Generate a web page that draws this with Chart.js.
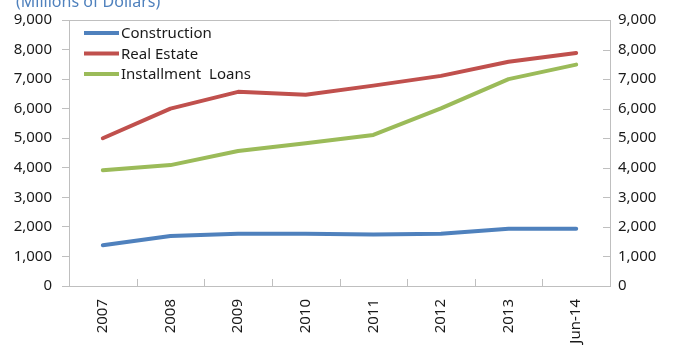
<!DOCTYPE html>
<html>
<head>
<meta charset="utf-8">
<script src="https://cdn.jsdelivr.net/npm/chart.js@4"></script>
<style>
  html, body { margin: 0; padding: 0; background: #fff; overflow: hidden; }
  #wrap { position: relative; width: 673px; height: 356px; }
</style>
</head>
<body>
<div id="wrap"><canvas id="loansChart" width="673" height="356"></canvas></div>
<script>
const categories = ['2007', '2008', '2009', '2010', '2011', '2012', '2013', 'Jun-14']
const construction = [1380, 1690, 1770, 1770, 1740, 1770, 1940, 1940]
const realEstate = [5000, 6000, 6570, 6470, 6780, 7110, 7590, 7880]
const installmentLoans = [3920, 4090, 4570, 4830, 5110, 6010, 7000, 7490]
const yTicks = [0, 1000, 2000, 3000, 4000, 5000, 6000, 7000, 8000, 9000]

const unitsLabel = '(Millions of Dollars)'
const frameColor = '#bfbfbf'

Chart.defaults.font.family = "'Noto Sans', sans-serif"
Chart.defaults.font.size = 15
Chart.defaults.color = '#1a1a1a'

const fmt = v => Number(v).toLocaleString('en-US')

// inner tick marks, top frame edge, units caption and the legend box
const framePlugin = {
  id: 'frame',
  afterDraw(chart) {
    const ctx = chart.ctx
    const {left, right, top, bottom} = chart.chartArea
    const xs = chart.scales.x
    const y2 = chart.scales.y2
    ctx.save()
    ctx.strokeStyle = frameColor
    ctx.lineWidth = 1
    ctx.beginPath()
    ctx.moveTo(left, Math.round(top) + 0.5)
    ctx.lineTo(right, Math.round(top) + 0.5)
    y2.ticks.forEach(t => {
      const y = Math.round(y2.getPixelForValue(t.value)) + 0.5
      ctx.moveTo(right - 7, y)
      ctx.lineTo(right, y)
    })
    for (let i = 1; i < categories.length; i++) {
      const x = Math.round((xs.getPixelForValue(i - 1) + xs.getPixelForValue(i)) / 2) + 0.5
      ctx.moveTo(x, bottom - 7)
      ctx.lineTo(x, bottom)
    }
    ctx.stroke()

    // units caption, mostly above the top edge
    ctx.fillStyle = '#4f81bd'
    ctx.font = "16px 'Noto Sans'"
    ctx.textBaseline = 'alphabetic'
    ctx.textAlign = 'left'
    ctx.fillText(unitsLabel, 16, 7)

    // legend
    ctx.font = "15px 'Noto Sans'"
    ctx.textBaseline = 'middle'
    chart.data.datasets.forEach((ds, i) => {
      const y = top + 13 + i * 20.5
      ctx.strokeStyle = ds.borderColor
      ctx.lineWidth = 4
      ctx.beginPath()
      ctx.moveTo(left + 15, y)
      ctx.lineTo(left + 50, y)
      ctx.stroke()
      ctx.fillStyle = '#1a1a1a'
      ctx.fillText(ds.label, left + 52, y + 1)
    })
    ctx.restore()
  }
}

const line = (label, data, color) => ({
  label: label,
  data: data,
  borderColor: color,
  backgroundColor: color,
  borderWidth: 4,
  borderCapStyle: 'round',
  borderJoinStyle: 'round',
  pointRadius: 0,
  tension: 0,
  yAxisID: 'y'
})

new Chart(document.getElementById('loansChart'), {
  type: 'line',
  data: {
    labels: categories,
    datasets: [
      line('Construction', construction, '#4f81bd'),
      line('Real Estate', realEstate, '#c0504d'),
      line('Installment  Loans', installmentLoans, '#9bbb59')
    ]
  },
  options: {
    responsive: false,
    animation: false,
    layout: {padding: {top: 20, left: 0, right: 0, bottom: 0}},
    plugins: {legend: {display: false}, tooltip: {enabled: false}},
    scales: {
      x: {
        offset: true,
        grid: {display: false, drawTicks: false},
        border: {display: true, color: frameColor, width: 1},
        ticks: {maxRotation: 90, minRotation: 90, padding: 13, autoSkip: false},
        afterFit: s => { s.height = 70 }
      },
      y: {
        position: 'left',
        min: 0,
        max: 9000,
        afterBuildTicks: s => { s.ticks = yTicks.map(v => ({value: v})) },
        grid: {display: true, drawOnChartArea: false, drawTicks: true, tickLength: 7, color: frameColor},
        border: {display: true, color: frameColor, width: 1},
        ticks: {padding: 10, callback: fmt},
        afterFit: s => { s.width = 69 }
      },
      y2: {
        position: 'right',
        min: 0,
        max: 9000,
        afterBuildTicks: s => { s.ticks = yTicks.map(v => ({value: v})) },
        grid: {display: false, drawTicks: false},
        border: {display: true, color: frameColor, width: 1},
        ticks: {padding: 8, callback: fmt},
        afterFit: s => { s.width = 63 }
      }
    }
  },
  plugins: [framePlugin]
})
</script>
</body>
</html>
